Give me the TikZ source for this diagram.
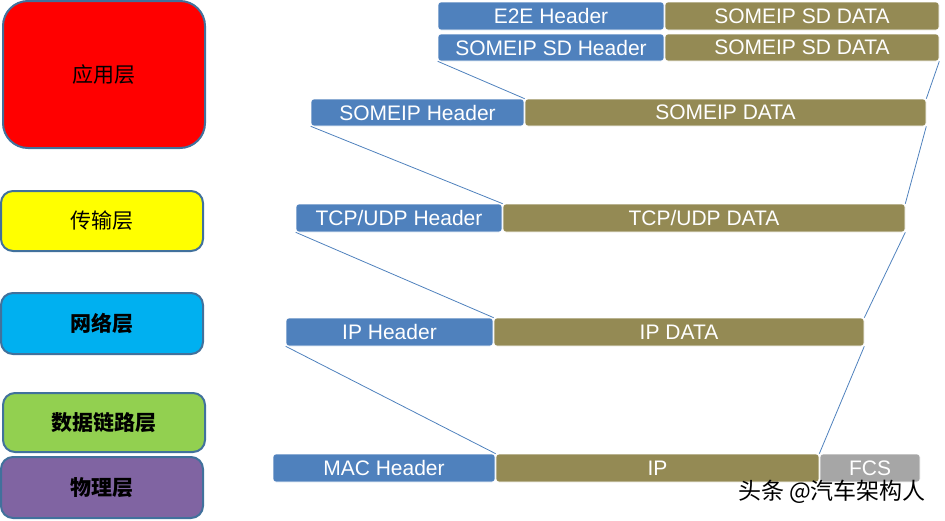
\documentclass[tikz,border=0pt]{standalone}
\usepackage{fontspec}
\setmainfont{Liberation Sans}
\newfontfamily\cjk{Noto Sans CJK SC}
\definecolor{hdrblue}{HTML}{4F81BD}
\definecolor{dataolive}{HTML}{948A54}
\definecolor{fcsgray}{HTML}{A6A6A6}
\definecolor{layerline}{HTML}{41719C}
\definecolor{appred}{HTML}{FF0000}
\definecolor{tpyellow}{HTML}{FFFF00}
\definecolor{netcyan}{HTML}{00B0F0}
\definecolor{dlgreen}{HTML}{92D050}
\definecolor{phypurple}{HTML}{8064A2}
\begin{document}
\begin{tikzpicture}[x=1pt,y=-1pt,
    layer/.style={draw=layerline, line width=2pt, rounded corners=12pt, minimum width=202pt,
        font=\cjk\fontsize{21}{25}\selectfont, inner sep=0pt},
    field/.style={draw=white, line width=0.6pt, rounded corners=3pt, text=white, inner sep=0pt,
        font=\fontsize{21}{25}\selectfont},
    hdr/.style={field, fill=hdrblue},
    pay/.style={field, fill=dataolive},
    link/.style={draw=hdrblue, line width=0.8pt}]

    \useasboundingbox (0,0) rectangle (945,520);

    % layers
    \node[layer, fill=appred, minimum height=147pt, rounded corners=25pt] (app) at (104,74.5) {应用层};
    \node[layer, fill=tpyellow, minimum height=60pt] (tp) at (102,221) {传输层};
    \node[layer, fill=netcyan, minimum height=61pt] (net) at (102,323.5) {\bfseries 网络层};
    \node[layer, fill=dlgreen, minimum height=59pt] (dl) at (104,422.5) {\bfseries 数据链路层};
    \node[layer, fill=phypurple, minimum height=61pt] (phy) at (102,487.5) {\bfseries 物理层};

    % SOMEIP SD
    \node[hdr, minimum width=226pt, minimum height=28pt] (e2ehdr) at (551,16) {E2E Header};
    \node[pay, minimum width=274pt, minimum height=28pt] (sddata1) at (802,16) {SOMEIP SD DATA};
    \node[hdr, minimum width=226pt, minimum height=27pt] (sdhdr) at (551,47.5) {SOMEIP SD Header};
    \node[pay, minimum width=274pt, minimum height=27pt] (sddata2) at (802,47.5) {SOMEIP SD DATA};

    % SOMEIP
    \node[hdr, minimum width=213pt, minimum height=27pt] (somehdr) at (417.5,112.5) {SOMEIP Header};
    \node[pay, minimum width=401pt, minimum height=27pt] (somedata) at (725.5,112.5) {SOMEIP DATA};

    % TCP/UDP
    \node[hdr, minimum width=206pt, minimum height=28pt] (tcphdr) at (399,218) {TCP/UDP Header};
    \node[pay, minimum width=402pt, minimum height=28pt] (tcpdata) at (704,218) {TCP/UDP DATA};

    % IP
    \node[hdr, minimum width=207pt, minimum height=28pt] (iphdr) at (389.5,332) {IP Header};
    \node[pay, minimum width=370pt, minimum height=28pt] (ipdata) at (679,332) {IP DATA};

    % MAC frame
    \node[hdr, minimum width=222pt, minimum height=28pt] (machdr) at (384,468) {MAC Header};
    \node[pay, minimum width=323pt, minimum height=28pt] (macip) at (657.5,468) {IP};
    \node[field, fill=fcsgray, minimum width=100pt, minimum height=28pt] (fcs) at (870,468) {FCS};

    \draw[link] (sdhdr.south west) -- (somedata.north west);
    \draw[link] (sddata2.south east) -- (somedata.north east);
    \draw[link] (somehdr.south west) -- (tcpdata.north west);
    \draw[link] (somedata.south east) -- (tcpdata.north east);
    \draw[link] (tcphdr.south west) -- (ipdata.north west);
    \draw[link] (tcpdata.south east) -- (ipdata.north east);
    \draw[link] (iphdr.south west) -- (macip.north west);
    \draw[link] (ipdata.south east) -- (macip.north east);

    \node[font=\cjk\fontsize{23}{27}\selectfont, inner sep=0pt] (mark) at (832,492) {头条 @汽车架构人};

\end{tikzpicture}
\end{document}
